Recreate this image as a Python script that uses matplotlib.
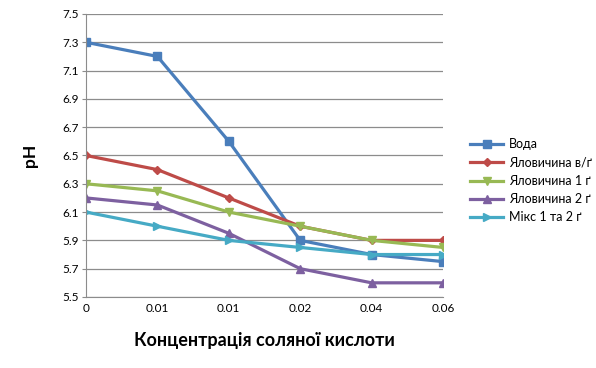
import matplotlib.pyplot as plt

plt.rcParams['font.family'] = ['Lato', 'DejaVu Sans']

conc = ["0", "0.01", "0.01", "0.02", "0.04", "0.06"]
voda = [7.3, 7.2, 6.6, 5.9, 5.8, 5.75]
yal_vg = [6.5, 6.4, 6.2, 6.0, 5.9, 5.9]
yal_1 = [6.3, 6.25, 6.1, 6.0, 5.9, 5.85]
yal_2 = [6.2, 6.15, 5.95, 5.7, 5.6, 5.6]
miks = [6.1, 6.0, 5.9, 5.85, 5.8, 5.8]

series = [
    ("Вода", voda, "#4A7EBB", "s"),
    ("Яловичина в/ґ", yal_vg, "#BE4B48", "D"),
    ("Яловичина 1 ґ", yal_1, "#98B954", "v"),
    ("Яловичина 2 ґ", yal_2, "#7D60A0", "^"),
    ("Мікс 1 та 2 ґ", miks, "#46AAC5", ">"),
]

fig = plt.figure(figsize=(5.96, 3.68), dpi=100)
ax = fig.add_axes([0.1443, 0.193, 0.599, 0.769])

x = list(range(len(conc)))
for name, vals, col, mk in series:
    ms = 4 if mk == "D" else 6
    ax.plot(x, vals, color=col, lw=2.3, marker=mk, ms=ms, label=name)

ax.set_xlim(0, len(conc) - 1)
ax.set_ylim(5.5, 7.5)
yt = [5.5 + 0.2 * i for i in range(11)]
ax.set_yticks(yt)
ax.set_yticklabels([f"{v:.1f}" for v in yt], fontsize=8.5)
ax.set_xticks(x)
ax.set_xticklabels(conc, fontsize=8.5)
ax.grid(axis="y", color="#8c8c8c", lw=0.9)
ax.set_axisbelow(True)
for s in ["top", "right"]:
    ax.spines[s].set_visible(False)
for s in ["left", "bottom"]:
    ax.spines[s].set_color("#8c8c8c")
ax.tick_params(axis="both", color="#8c8c8c", length=3, pad=2)
ax.tick_params(axis="x", length=0, pad=4)

ax.set_ylabel("pH", fontsize=12.5, fontweight="bold", labelpad=18)
ax.set_xlabel("Концентрація соляної кислоти", fontsize=13, fontweight="bold", labelpad=13)

ax.legend(loc="center left", bbox_to_anchor=(1.045, 0.41), frameon=False,
          fontsize=9, handlelength=2.6, labelspacing=0.5, handletextpad=0.5)

fig.savefig("out.png", dpi=100)
